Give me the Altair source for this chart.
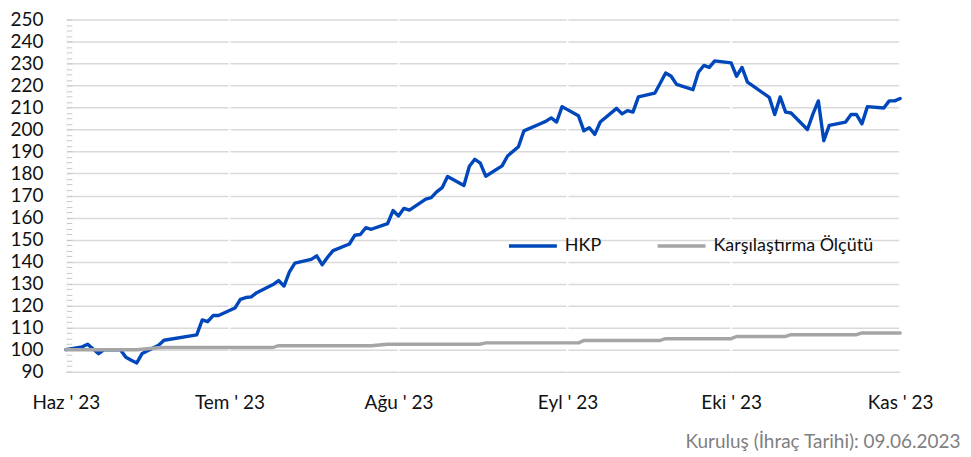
import json
import altair as alt
import pandas as pd

# ---------------- data ----------------
dates = [
    "2023-06-09", "2023-06-12", "2023-06-13", "2023-06-14", "2023-06-15", "2023-06-16",
    "2023-06-19", "2023-06-20", "2023-06-21", "2023-06-22", "2023-06-23", "2023-06-26",
    "2023-06-27",
    "2023-07-03", "2023-07-04", "2023-07-05", "2023-07-06", "2023-07-07", "2023-07-10",
    "2023-07-11", "2023-07-12", "2023-07-13", "2023-07-14", "2023-07-17", "2023-07-18",
    "2023-07-19", "2023-07-20", "2023-07-21", "2023-07-24", "2023-07-25", "2023-07-26",
    "2023-07-27", "2023-07-28", "2023-07-31",
    "2023-08-01", "2023-08-02", "2023-08-03", "2023-08-04", "2023-08-07", "2023-08-08",
    "2023-08-09", "2023-08-10", "2023-08-11", "2023-08-14", "2023-08-15", "2023-08-16",
    "2023-08-17", "2023-08-18", "2023-08-21", "2023-08-22", "2023-08-23", "2023-08-24",
    "2023-08-25", "2023-08-28", "2023-08-29", "2023-08-31",
    "2023-09-01", "2023-09-04", "2023-09-05", "2023-09-06", "2023-09-07", "2023-09-08",
    "2023-09-11", "2023-09-12", "2023-09-13", "2023-09-14", "2023-09-15", "2023-09-18",
    "2023-09-19", "2023-09-20", "2023-09-21", "2023-09-22", "2023-09-25", "2023-09-26",
    "2023-09-27", "2023-09-28", "2023-09-29",
    "2023-10-02", "2023-10-03", "2023-10-04", "2023-10-05", "2023-10-06", "2023-10-09",
    "2023-10-10", "2023-10-11", "2023-10-12", "2023-10-13", "2023-10-16", "2023-10-17",
    "2023-10-18", "2023-10-19", "2023-10-20", "2023-10-23", "2023-10-24", "2023-10-25",
    "2023-10-26", "2023-10-27", "2023-10-30", "2023-10-31",
    "2023-11-01", "2023-11-02", "2023-11-03", "2023-11-06", "2023-11-07", "2023-11-08",
    "2023-11-09",
]

hkp = [
    100.0, 101.3, 102.5, 100.3, 98.2, 100.0, 100.0, 96.6, 95.2, 94.0, 98.3, 102.0, 104.3,
    106.7, 113.5, 112.7, 115.5, 115.5, 118.9, 122.9, 123.7, 124.0, 125.9, 129.6, 131.4,
    128.9, 135.3, 139.3, 141.0, 142.6, 138.6, 142.0, 145.0, 148.0,
    152.0, 152.3, 155.4, 154.7, 157.3, 163.2, 160.7, 164.2, 163.4, 168.4, 169.1, 171.7,
    173.6, 178.7, 174.6, 183.3, 186.5, 184.7, 178.8, 183.5, 188.0, 192.2,
    199.4, 202.6, 203.7, 205.3, 203.4, 210.4, 206.3, 199.4, 200.8, 197.8, 203.4, 209.6,
    207.1, 208.6, 207.9, 214.8, 216.5, 221.0, 225.7, 224.2, 220.5,
    218.1, 226.0, 229.1, 228.2, 231.2, 230.3, 224.2, 228.2, 221.5, 219.8, 214.6, 206.8,
    214.8, 207.9, 207.5, 200.0, 207.0, 213.0, 194.9, 201.9, 203.4, 206.8,
    206.8, 202.6, 210.4, 209.8, 213.0, 213.0, 214.1,
]

benchmark = [
    100.0, 100.0, 100.0, 100.0, 100.0, 100.0, 100.0, 100.0, 100.0, 100.0, 100.2, 100.9, 101.0,
    101.0, 101.0, 101.0, 101.0, 101.0, 101.0, 101.0, 101.0, 101.0, 101.0, 101.0, 101.8,
    101.8, 101.8, 101.8, 101.8, 101.8, 101.8, 101.8, 101.8, 101.8,
    101.8, 101.8, 101.8, 101.8, 102.5, 102.5, 102.5, 102.5, 102.5, 102.5, 102.5, 102.5,
    102.5, 102.5, 102.5, 102.5, 102.5, 102.5, 103.1, 103.1, 103.1, 103.1,
    103.1, 103.1, 103.1, 103.1, 103.1, 103.1, 103.1, 104.2, 104.2, 104.2, 104.2, 104.2,
    104.2, 104.2, 104.2, 104.2, 104.2, 104.2, 105.0, 105.0, 105.0,
    105.0, 105.0, 105.0, 105.0, 105.0, 105.0, 106.0, 106.0, 106.0, 106.0, 106.0, 106.0,
    106.0, 106.0, 106.8, 106.8, 106.8, 106.8, 106.8, 106.8, 106.8, 106.8,
    106.8, 107.6, 107.6, 107.6, 107.6, 107.6, 107.6,
]

series_names = ["HKP", "Karşılaştırma Ölçütü"]
series_colors = ["#0047BB", "#A5A5A5"]

x_tick_dates = ["2023-06-09", "2023-07-09", "2023-08-09", "2023-09-09", "2023-10-09", "2023-11-09"]
x_tick_labels = ["Haz ' 23", "Tem ' 23", "Ağu ' 23", "Eyl ' 23", "Eki ' 23", "Kas ' 23"]
y_tick_values = [90, 100, 110, 120, 130, 140, 150, 160, 170, 180, 190, 200, 210, 220, 230, 240, 250]
y_minor_values = [90 + 2.5 * i for i in range(65)]
note_text = "Kuruluş (İhraç Tarihi): 09.06.2023"

# ---------------- tables ----------------
df = pd.DataFrame({
    "date": dates + dates,
    "value": hkp + benchmark,
    "series": [series_names[0]] * len(dates) + [series_names[1]] * len(dates),
})
grid_df = pd.DataFrame({"date": x_tick_dates})


def to_dt(s):
    y, m, d = (int(p) for p in s.split("-"))
    return alt.DateTime(year=y, month=m, date=d, utc=True)


FONT = "Lato"

x_scale = alt.Scale(type="utc", domain=[to_dt(dates[0]), to_dt(dates[-1])], nice=False)
y_scale = alt.Scale(domain=[90, 250], nice=False, zero=False)

label_expr = (
    json.dumps(x_tick_labels, ensure_ascii=False)
    + "[utcmonth(datum.value) - " + str(int(x_tick_dates[0][5:7]) - 1) + "]"
)

x_axis = alt.Axis(
    values=[to_dt(s) for s in x_tick_dates],
    labelExpr=label_expr,
    labelFlush=False,
    labelOverlap=False,
    grid=False,
    domain=False,
    ticks=False,
    tickSize=0,
    labelPadding=22,
    labelFont=FONT,
    labelFontSize=19,
    labelColor="#111111",
    title=note_text,
    titleFont=FONT,
    titleFontSize=19,
    titleFontWeight="normal",
    titleColor="#808080",
    titleAlign="right",
    titleBaseline="middle",
    titleX=896,
    titleY=70,
)

y_axis = alt.Axis(
    orient="left",
    values=y_tick_values,
    grid=True,
    gridColor="#d9d9d9",
    gridWidth=1.5,
    domain=True,
    domainColor="#d9d9d9",
    domainWidth=1.5,
    ticks=False,
    tickSize=0,
    labelPadding=23,
    labelFont=FONT,
    labelFontSize=19,
    labelColor="#111111",
    labelFlush=False,
    labelOverlap=False,
    title=None,
)

minor_axis = alt.Axis(
    orient="left",
    values=y_minor_values,
    offset=-6,
    grid=False,
    domain=False,
    labels=False,
    ticks=True,
    tickSize=6,
    tickColor="#c8c8c8",
    tickWidth=1,
    title=None,
)

x_enc = alt.X("date:T", scale=x_scale, axis=x_axis)

white_grid = alt.Chart(grid_df).mark_rule(color="white", strokeWidth=2).encode(x=x_enc)

lines = alt.Chart(df).mark_line(strokeWidth=3.4, strokeJoin="round", strokeCap="round").encode(
    x=x_enc,
    y=alt.Y("value:Q", scale=y_scale, axis=y_axis),
    color=alt.Color(
        "series:N",
        scale=alt.Scale(domain=series_names, range=series_colors),
        legend=alt.Legend(
            orient="none",
            legendX=442,
            legendY=201,
            direction="horizontal",
            title=None,
            symbolType="stroke",
            symbolSize=2304,
            symbolStrokeWidth=3.5,
            labelFont=FONT,
            labelFontSize=18,
            labelColor="#111111",
            labelOffset=6,
            labelLimit=400,
            columnPadding=49,
            padding=0,
        ),
    ),
)

minor_ticks = alt.Chart(df).mark_point(opacity=0).encode(
    y=alt.Y("value:Q", scale=y_scale, axis=minor_axis)
)

chart = (
    alt.layer(white_grid, lines, minor_ticks)
    .resolve_axis(y="independent")
    .properties(
        width=836,
        height=353,
        autosize="none",
        padding={"left": 58, "top": 11, "right": 63, "bottom": 85},
        background="white",
    )
    .configure_view(stroke=None)
)

chart.save("out.html", embed_options={"renderer": "svg", "actions": False})
